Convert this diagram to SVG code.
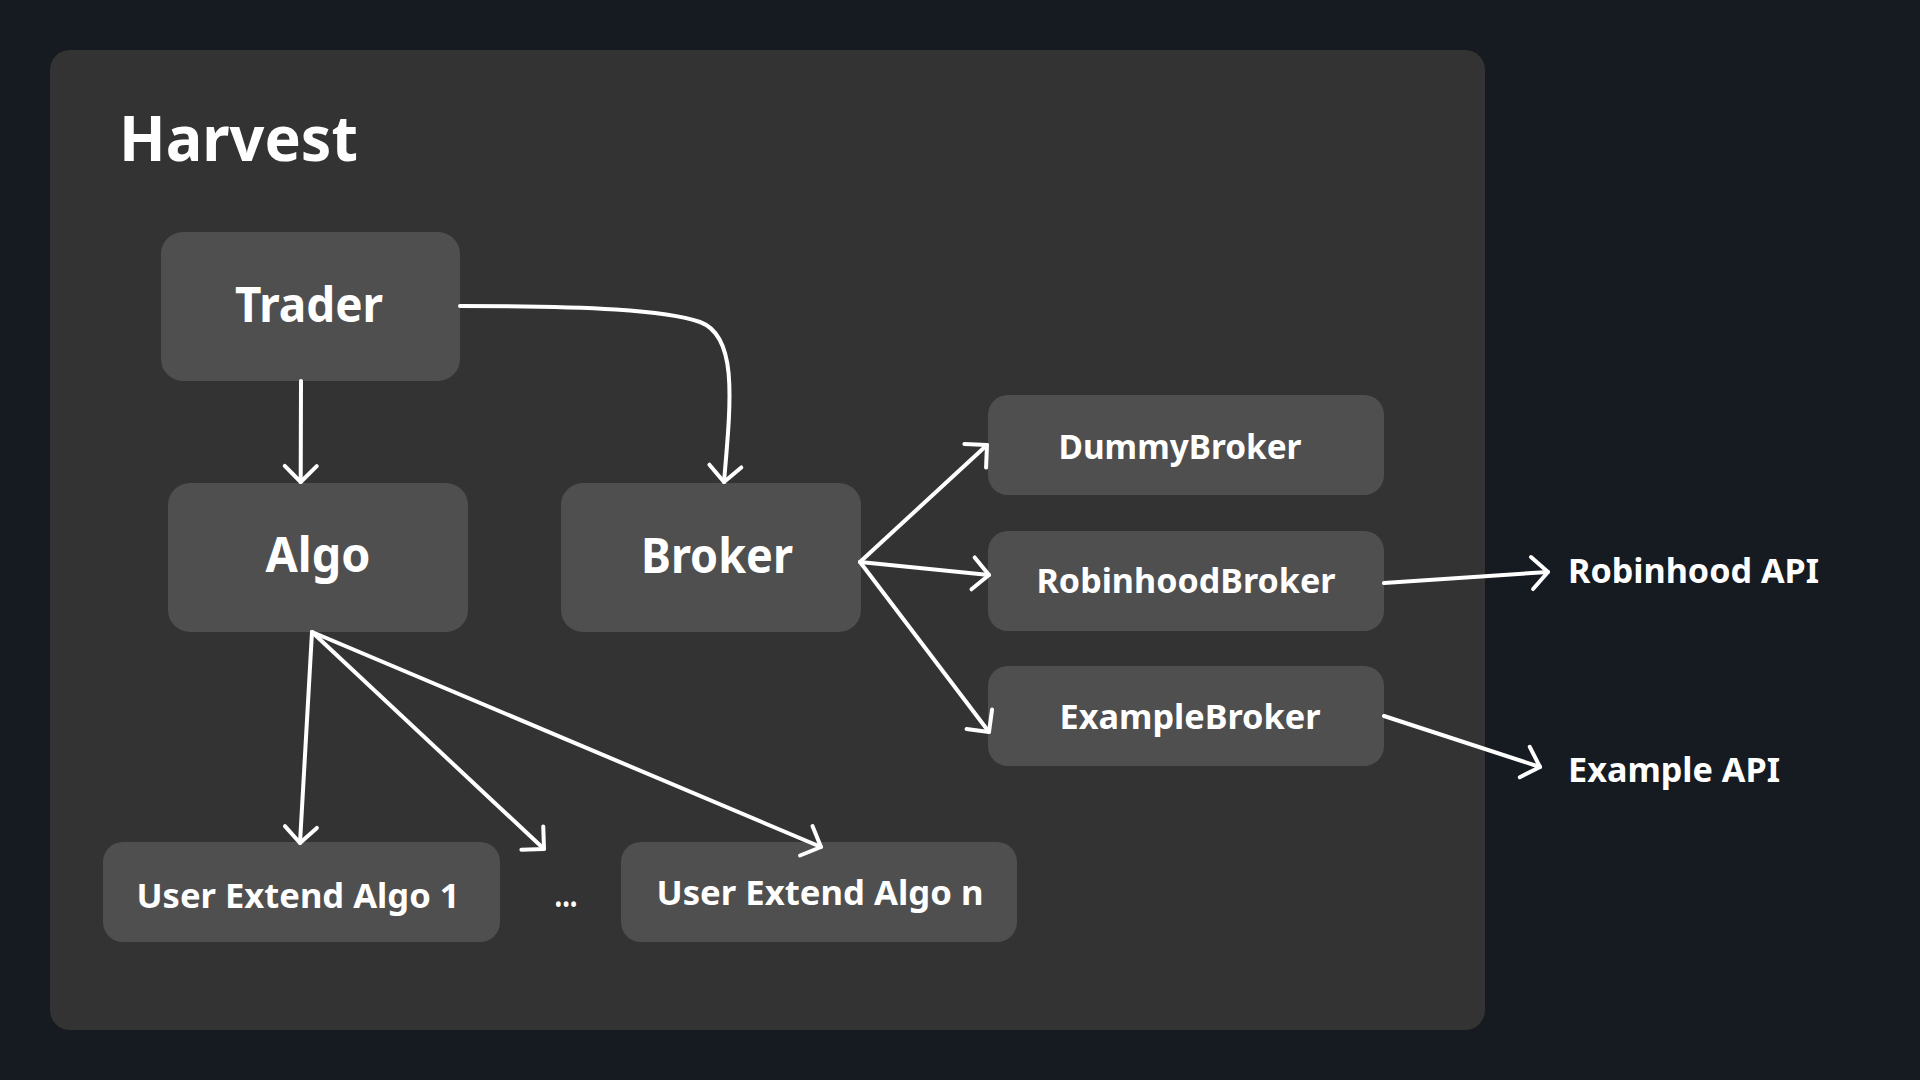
<svg xmlns="http://www.w3.org/2000/svg" width="1920" height="1080" viewBox="0 0 1920 1080">
  <style>
    .node rect { fill: #4f4f4f; }
    .lbl { font-family: "Noto Sans", "Open Sans", sans-serif; font-weight: 700; fill: #ffffff; }
    .big { font-size: 49px; }
    .small { font-size: 34px; }
    .conn path { fill: none; stroke: #ffffff; stroke-width: 4; stroke-linecap: round; stroke-linejoin: round; marker-end: url(#arrow); }
  </style>
  <defs>
    <marker id="arrow" markerUnits="userSpaceOnUse" viewBox="-22 -22 44 44" markerWidth="44" markerHeight="44" refX="0" refY="0" orient="auto">
      <path d="M-16,-16 L0,0 L-16,16" fill="none" stroke="#ffffff" stroke-width="4" stroke-linecap="round" stroke-linejoin="round"/>
    </marker>
  </defs>
  <rect x="0" y="0" width="1920" height="1080" fill="#161a21"/>
  <g id="harvest">
    <rect x="50" y="50" width="1435" height="980" rx="20" fill="#333333"/>
    <text class="lbl" x="119" y="161" font-size="62" textLength="239" lengthAdjust="spacingAndGlyphs">Harvest</text>
  </g>
  <g id="trader" class="node">
    <rect x="161" y="232" width="299" height="149" rx="22"/>
    <text class="lbl big" x="309" y="322" text-anchor="middle" textLength="148" lengthAdjust="spacingAndGlyphs">Trader</text>
  </g>
  <g id="algo" class="node">
    <rect x="168" y="483" width="300" height="149" rx="22"/>
    <text class="lbl big" x="318" y="572" text-anchor="middle" textLength="105" lengthAdjust="spacingAndGlyphs">Algo</text>
  </g>
  <g id="broker" class="node">
    <rect x="561" y="483" width="300" height="149" rx="22"/>
    <text class="lbl big" x="717" y="573" text-anchor="middle" textLength="152" lengthAdjust="spacingAndGlyphs">Broker</text>
  </g>
  <g id="dummybroker" class="node">
    <rect x="988" y="395" width="396" height="100" rx="20"/>
    <text class="lbl small" x="1180" y="459" text-anchor="middle" textLength="243" lengthAdjust="spacingAndGlyphs">DummyBroker</text>
  </g>
  <g id="robinhoodbroker" class="node">
    <rect x="988" y="531" width="396" height="100" rx="20"/>
    <text class="lbl small" x="1186" y="593" text-anchor="middle" textLength="299" lengthAdjust="spacingAndGlyphs">RobinhoodBroker</text>
  </g>
  <g id="examplebroker" class="node">
    <rect x="988" y="666" width="396" height="100" rx="20"/>
    <text class="lbl small" x="1190" y="729" text-anchor="middle" textLength="261" lengthAdjust="spacingAndGlyphs">ExampleBroker</text>
  </g>
  <g id="userextendalgo1" class="node">
    <rect x="103" y="842" width="397" height="100" rx="20"/>
    <text class="lbl small" x="298" y="908" text-anchor="middle" textLength="323" lengthAdjust="spacingAndGlyphs">User Extend Algo 1</text>
  </g>
  <g id="ellipsis">
    <text class="lbl small" x="566" y="907" text-anchor="middle" textLength="23" lengthAdjust="spacingAndGlyphs">...</text>
  </g>
  <g id="userextendalgon" class="node">
    <rect x="621" y="842" width="396" height="100" rx="20"/>
    <text class="lbl small" x="820" y="905" text-anchor="middle" textLength="327" lengthAdjust="spacingAndGlyphs">User Extend Algo n</text>
  </g>
  <g id="robinhoodapi">
    <text class="lbl small" x="1568" y="583" textLength="251" lengthAdjust="spacingAndGlyphs">Robinhood API</text>
  </g>
  <g id="exampleapi">
    <text class="lbl small" x="1568" y="782" textLength="212" lengthAdjust="spacingAndGlyphs">Example API</text>
  </g>
  <g id="connectors" class="conn">
    <path d="M301,381 L300.7,482"/>
    <path d="M460,306 C590,306 665,310 700,322 C738,336 731,400 724,482"/>
    <path d="M860,562 L987,445"/>
    <path d="M860,562 L989,575"/>
    <path d="M860,562 L989,732"/>
    <path d="M1384,583 L1548,572"/>
    <path d="M1384,716 L1540,767"/>
    <path d="M312,632 L300,843"/>
    <path d="M312,632 L544,849"/>
    <path d="M312,632 L821,847"/>
  </g>
</svg>
